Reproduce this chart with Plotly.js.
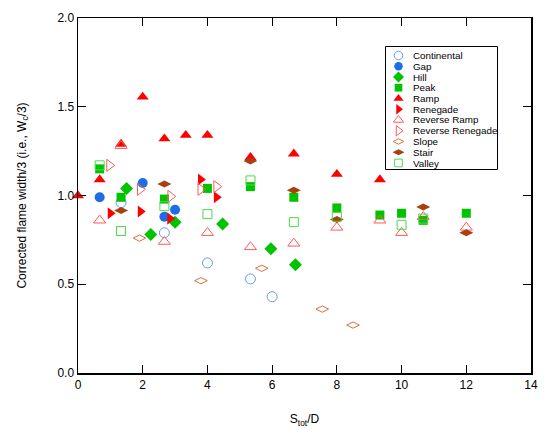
<!DOCTYPE html>
<html>
<head>
<meta charset="utf-8">
<script src="https://cdn.plot.ly/plotly-3.0.1.min.js"></script>
<style>html,body{margin:0;padding:0;background:#fff;}#chart{width:550px;height:428px;}</style>
</head>
<body>
<div id="chart"></div>
<script>
// ---- data ----
const seriesNames = ["Continental","Gap","Hill","Peak","Ramp","Renegade","Reverse Ramp","Reverse Renegade","Slope","Stair","Valley"];

const continentalX = [1.33, 2.67, 4.0, 5.33, 6.0];
const continentalY = [0.96, 0.79, 0.62, 0.53, 0.43];

const gapX = [0.67, 2.0, 2.67, 3.0];
const gapY = [0.99, 1.07, 0.88, 0.92];

const hillX = [1.5, 2.25, 3.0, 4.47, 5.96, 6.72];
const hillY = [1.04, 0.78, 0.85, 0.84, 0.70, 0.61];

const peakX = [0.67, 1.33, 2.67, 4.0, 5.33, 6.67, 8.0, 9.33, 10.0, 10.67, 12.0];
const peakY = [1.15, 0.99, 0.98, 1.04, 1.05, 0.99, 0.93, 0.89, 0.90, 0.86, 0.90];

const rampX = [0, 0.67, 1.33, 2.0, 2.67, 3.33, 4.0, 5.33, 6.67, 8.0, 9.33];
const rampY = [1.0, 1.09, 1.29, 1.555, 1.32, 1.34, 1.34, 1.215, 1.235, 1.12, 1.09];

const renegadeX = [1.0, 1.93, 2.84, 3.79, 4.28];
const renegadeY = [0.90, 0.91, 0.87, 1.09, 0.99];

const revRampX = [0.67, 1.33, 2.67, 4.0, 5.33, 6.67, 8.0, 9.33, 10.0, 10.67, 12.0];
const revRampY = [0.86, 1.28, 0.74, 0.79, 0.71, 0.73, 0.82, 0.86, 0.79, 0.88, 0.82];

const revRenegadeX = [0.97, 1.92, 2.86, 3.79, 4.28];
const revRenegadeY = [1.17, 1.035, 0.995, 1.035, 1.05];

const slopeX = [1.9, 3.8, 5.68, 7.55, 8.5];
const slopeY = [0.76, 0.52, 0.59, 0.36, 0.27];

const stairX = [1.33, 2.67, 5.33, 6.67, 8.0, 10.67, 12.0];
const stairY = [0.915, 1.065, 1.195, 1.03, 0.865, 0.935, 0.79];

const valleyX = [0.67, 1.33, 2.67, 4.0, 5.33, 6.67, 8.0, 10.0, 10.67];
const valleyY = [1.17, 0.80, 0.94, 0.895, 1.085, 0.85, 0.88, 0.835, 0.87];

const xTickVals = [0, 2, 4, 6, 8, 10, 12, 14];
const yTickVals = [0.0, 0.5, 1.0, 1.5, 2.0];

// ---- styles ----
const seriesX = [continentalX, gapX, hillX, peakX, rampX, renegadeX, revRampX, revRenegadeX, slopeX, stairX, valleyX];
const seriesY = [continentalY, gapY, hillY, peakY, rampY, renegadeY, revRampY, revRenegadeY, slopeY, stairY, valleyY];
const symbols = ["circle-open","circle","diamond","square","triangle-up","triangle-right","triangle-up-open","triangle-right-open","diamond-wide-open","diamond-wide","square-open"];
const colors = ["#5f9df2","#1f6de6","#00c400","#00c400","#ff0000","#ff0000","#ff5a5a","#ff5a5a","#d8703c","#a8400f","#4cd94c"];
const sizes = [10, 10, 10, 9, 10.5, 10.5, 10.5, 10.5, 9, 10, 9];

const traces = seriesNames.map((n, i) => ({
  type: "scatter", mode: "markers", name: n, x: seriesX[i], y: seriesY[i],
  cliponaxis: false, showlegend: false, hoverinfo: "x+y+name",
  marker: { symbol: symbols[i], color: colors[i], size: sizes[i],
            line: { color: colors[i], width: symbols[i].indexOf("open") >= 0 ? 1 : 0 } }
}));

// ---- custom compact legend (plot-area fraction coordinates) ----
const fx = px => (px - 78) / 453;
const fy = py => (373 - py) / 355;
const rowY = seriesNames.map((n, i) => fy(55.5 + i * 10.75));
const legendSymX = fx(398.5);
const legendTxtX = fx(410.5);

seriesNames.forEach((n, i) => {
  traces.push({
    type: "scatter", mode: "markers", xaxis: "x2", yaxis: "y2",
    x: [legendSymX], y: [rowY[i]], showlegend: false, hoverinfo: "skip",
    marker: { symbol: symbols[i], color: colors[i], size: sizes[i] * 0.85,
              line: { color: colors[i], width: symbols[i].indexOf("open") >= 0 ? 1 : 0 } }
  });
});

const fontFam = "Liberation Sans, Arial, sans-serif";
const annotations = seriesNames.map((n, i) => ({
  xref: "paper", yref: "paper", x: legendTxtX, y: rowY[i],
  xanchor: "left", yanchor: "middle", text: n, showarrow: false,
  font: { family: fontFam, size: 9.8, color: "#000" }
}));

const shapes = [{
  type: "rect", xref: "paper", yref: "paper",
  x0: fx(385.5), x1: fx(497.5), y0: fy(169.5), y1: fy(46.5),
  line: { color: "#000", width: 1 }, fillcolor: "rgba(255,255,255,0)"
}];

const layout = {
  width: 550, height: 428,
  margin: { l: 78, r: 19, t: 18, b: 55 },
  paper_bgcolor: "#fff", plot_bgcolor: "#fff",
  font: { family: fontFam, size: 12, color: "#000" },
  showlegend: false,
  xaxis: {
    range: [0, 14], tickvals: xTickVals, ticks: "inside", ticklen: 8, tickwidth: 1, tickcolor: "#000",
    showline: true, linecolor: "#000", linewidth: 1.5, mirror: "ticks",
    showgrid: false, zeroline: false, tickfont: { family: fontFam, size: 12 },
    title: { text: "S<sub>tot</sub>/D", font: { family: fontFam, size: 12 }, standoff: 25 }
  },
  yaxis: {
    range: [0, 2], tickvals: yTickVals, tickformat: ".1f", ticks: "inside", ticklen: 8, tickwidth: 1, tickcolor: "#000",
    showline: true, linecolor: "#000", linewidth: 1.5, mirror: "ticks",
    showgrid: false, zeroline: false, tickfont: { family: fontFam, size: 12 },
    title: { text: "Corrected flame width/3 (i.e., W<sub>c</sub>/3)", font: { family: fontFam, size: 12 }, standoff: 28 }
  },
  xaxis2: { overlaying: "x", range: [0, 1], visible: false, fixedrange: true },
  yaxis2: { overlaying: "y", range: [0, 1], visible: false, fixedrange: true },
  annotations: annotations,
  shapes: shapes
};

Plotly.newPlot("chart", traces, layout, { displayModeBar: false, staticPlot: true });
</script>
</body>
</html>
